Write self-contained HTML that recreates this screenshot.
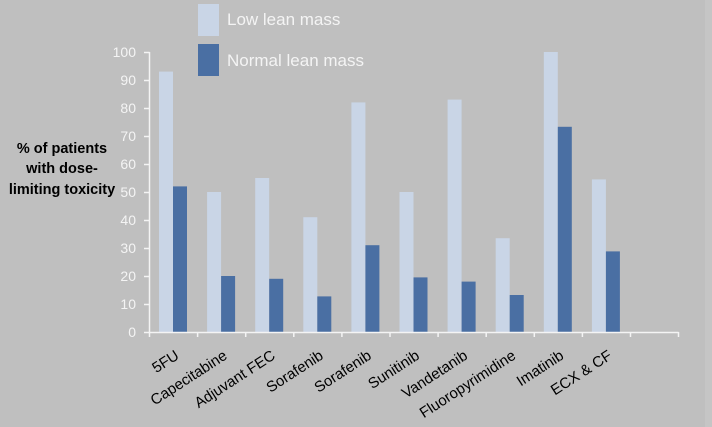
<!DOCTYPE html>
<html><head><meta charset="utf-8"><style>
html,body{margin:0;padding:0;background:#bfbfbf;}
svg{display:block;}
</style></head><body>
<svg width="712" height="427" viewBox="0 0 712 427" xmlns="http://www.w3.org/2000/svg">
<rect x="0" y="0" width="712" height="427" fill="#bfbfbf"/>
<rect x="705" y="0" width="7" height="427" fill="#c5c5c5"/>
<!-- legend -->
<rect x="198" y="4" width="21" height="32" fill="#c9d5e6"/>
<rect x="198" y="44" width="21" height="32" fill="#4a6fa3"/>
<text x="227" y="25" font-family="Liberation Sans, sans-serif" font-size="17" fill="#f4f4f4">Low lean mass</text>
<text x="227" y="66" font-family="Liberation Sans, sans-serif" font-size="17" fill="#f4f4f4">Normal lean mass</text>
<!-- y label -->
<g font-family="Liberation Sans, sans-serif" font-size="14.5" font-weight="bold" fill="#000" text-anchor="middle">
<text x="62" y="153">% of patients</text>
<text x="62" y="173">with dose-</text>
<text x="62" y="194">limiting toxicity</text>
</g>
<!-- y tick labels -->
<g font-family="Liberation Sans, sans-serif" font-size="14" fill="#f4f4f4" text-anchor="end">
<text x="136" y="57">100</text>
<text x="136" y="85">90</text>
<text x="136" y="113">80</text>
<text x="136" y="141">70</text>
<text x="136" y="169">60</text>
<text x="136" y="197">50</text>
<text x="136" y="225">40</text>
<text x="136" y="253">30</text>
<text x="136" y="281">20</text>
<text x="136" y="309">10</text>
<text x="136" y="337">0</text>
</g>
<!-- bars -->
<g>
<rect x="159" y="71.6" width="14" height="260.4" fill="#c9d5e6"/>
<rect x="173" y="186.4" width="14" height="145.6" fill="#4a6fa3"/>
<rect x="207.1" y="192" width="14" height="140" fill="#c9d5e6"/>
<rect x="221.1" y="276" width="14" height="56" fill="#4a6fa3"/>
<rect x="255.2" y="178" width="14" height="154" fill="#c9d5e6"/>
<rect x="269.2" y="278.8" width="14" height="53.2" fill="#4a6fa3"/>
<rect x="303.3" y="217.2" width="14" height="114.8" fill="#c9d5e6"/>
<rect x="317.3" y="296.4" width="14" height="35.6" fill="#4a6fa3"/>
<rect x="351.4" y="102.4" width="14" height="229.6" fill="#c9d5e6"/>
<rect x="365.4" y="245.2" width="14" height="86.8" fill="#4a6fa3"/>
<rect x="399.5" y="192" width="14" height="140" fill="#c9d5e6"/>
<rect x="413.5" y="277.4" width="14" height="54.6" fill="#4a6fa3"/>
<rect x="447.6" y="99.6" width="14" height="232.4" fill="#c9d5e6"/>
<rect x="461.6" y="281.6" width="14" height="50.4" fill="#4a6fa3"/>
<rect x="495.7" y="238.2" width="14" height="93.8" fill="#c9d5e6"/>
<rect x="509.7" y="295" width="14" height="37" fill="#4a6fa3"/>
<rect x="543.8" y="52" width="14" height="280" fill="#c9d5e6"/>
<rect x="557.8" y="126.8" width="14" height="205.2" fill="#4a6fa3"/>
<rect x="591.9" y="179.4" width="14" height="152.6" fill="#c9d5e6"/>
<rect x="605.9" y="251.4" width="14" height="80.6" fill="#4a6fa3"/>
</g>
<!-- axes -->
<g stroke="#f4f4f4" stroke-width="1.5" fill="none">
<line x1="149.5" y1="52" x2="149.5" y2="332.5"/>
<line x1="149" y1="332.5" x2="678.5" y2="332.5"/>
<path d="M144 52.5H149.5M144 80.5H149.5M144 108.5H149.5M144 136.5H149.5M144 164.5H149.5M144 192.5H149.5M144 220.5H149.5M144 248.5H149.5M144 276.5H149.5M144 304.5H149.5M144 332.5H149.5"/>
<path d="M149.5 332V337M197.6 332V337M245.7 332V337M293.8 332V337M341.9 332V337M390 332V337M438.1 332V337M486.2 332V337M534.3 332V337M582.4 332V337M630.5 332V337M678.5 332V337"/>
</g>
<!-- x labels -->
<g font-family="Liberation Sans, sans-serif" font-size="15" fill="#000" text-anchor="end">
<text transform="translate(180,358) rotate(-33)">5FU</text>
<text transform="translate(228.1,358) rotate(-33)">Capecitabine</text>
<text transform="translate(276.2,358) rotate(-33)">Adjuvant FEC</text>
<text transform="translate(324.3,358) rotate(-33)">Sorafenib</text>
<text transform="translate(372.4,358) rotate(-33)">Sorafenib</text>
<text transform="translate(420.5,358) rotate(-33)">Sunitinib</text>
<text transform="translate(468.6,358) rotate(-33)">Vandetanib</text>
<text transform="translate(516.7,358) rotate(-33)">Fluoropyrimidine</text>
<text transform="translate(564.8,358) rotate(-33)">Imatinib</text>
<text transform="translate(612.9,358) rotate(-33)">ECX &amp; CF</text>
</g>
</svg>
</body></html>
